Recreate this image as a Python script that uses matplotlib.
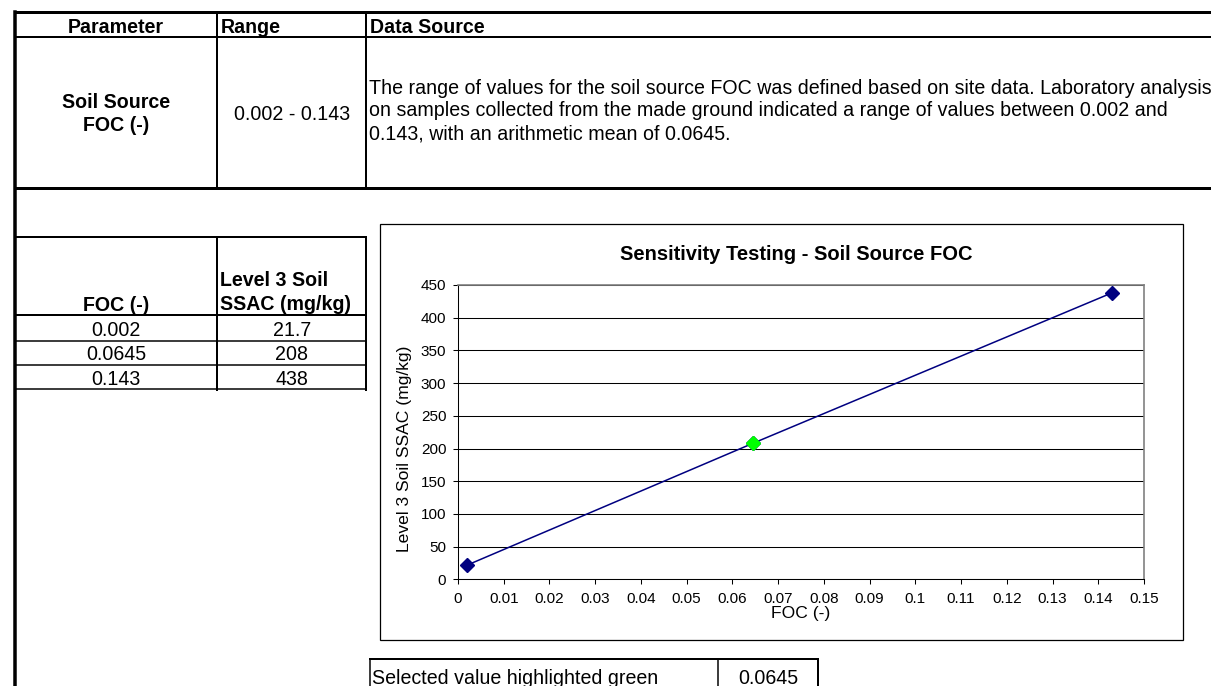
import matplotlib
matplotlib.use('Agg')
import matplotlib.pyplot as plt
from matplotlib.lines import Line2D
from matplotlib.patches import Rectangle

plt.rcParams['font.family'] = ['Liberation Sans', 'DejaVu Sans']

# ---------------- data ----------------
foc_values = [0.002, 0.0645, 0.143]
ssac_values = [21.7, 208, 438]
selected_foc = 0.0645

x_ticks = [0, 0.01, 0.02, 0.03, 0.04, 0.05, 0.06, 0.07, 0.08, 0.09, 0.10,
           0.11, 0.12, 0.13, 0.14, 0.15]
x_tick_labels = ['0', '0.01', '0.02', '0.03', '0.04', '0.05', '0.06', '0.07',
                 '0.08', '0.09', '0.1', '0.11', '0.12', '0.13', '0.14', '0.15']
y_ticks = [0, 50, 100, 150, 200, 250, 300, 350, 400, 450]

chart_title = 'Sensitivity Testing - Soil Source FOC'
x_label = 'FOC (-)'
y_label = 'Level 3 Soil SSAC (mg/kg)'

table_headers = ['Parameter', 'Range', 'Data Source']
parameter_lines = ['Soil Source', 'FOC (-)']
range_text = '0.002 - 0.143'
source_lines = [
    'The range of values for the soil source FOC was defined based on site data. Laboratory analysis',
    'on samples collected from the made ground indicated a range of values between 0.002 and',
    '0.143, with an arithmetic mean of 0.0645.',
]
small_header_foc = 'FOC (-)'
small_header_ssac = ['Level 3 Soil', 'SSAC (mg/kg)']
selected_label = 'Selected value highlighted green'

# ---------------- figure ----------------
W, H = 1211, 686
fig = plt.figure(figsize=(W / 100, H / 100), dpi=100)
fig.patch.set_facecolor('white')
TABLE_FS = 14.15


def P(x, y):
    return (x / W, 1 - y / H)


def hline(y, x0, x1, px):
    fig.add_artist(Line2D([x0 / W, x1 / W], [1 - y / H, 1 - y / H],
                          transform=fig.transFigure, color='black',
                          lw=px * 0.72, solid_capstyle='projecting'))


def vline(x, y0, y1, px):
    fig.add_artist(Line2D([x / W, x / W], [1 - y0 / H, 1 - y1 / H],
                          transform=fig.transFigure, color='black',
                          lw=px * 0.72, solid_capstyle='projecting'))


def txt(x, y, s, ha='left', bold=False, size=TABLE_FS):
    fig.text(*P(x, y), s, ha=ha, va='baseline', fontsize=size,
             weight='bold' if bold else 'normal')


# top table
hline(12, 15, 1211, 3)
hline(36.7, 15, 1211, 2)
hline(187.5, 15, 1211, 3)
vline(15, 12, 686, 3.5)
vline(217, 12, 187.5, 2)
vline(366, 12, 187.5, 2)

txt(116, 33, table_headers[0], ha='center', bold=True)
txt(221, 33, table_headers[1], bold=True)
txt(370, 33, table_headers[2], bold=True)
txt(116, 107.5, parameter_lines[0], ha='center', bold=True)
txt(116, 131, parameter_lines[1], ha='center', bold=True)
txt(292, 120, range_text, ha='center')
for i, line in enumerate(source_lines):
    txt(369, 94 + i * 22.5, line)

# second table
hline(237, 15, 366, 2)
hline(315, 15, 366, 2)
hline(340.5, 15, 366, 1.5)
hline(365, 15, 366, 1.5)
hline(389.5, 15, 366, 1.5)
vline(217, 237, 390, 2)
vline(366, 237, 390, 2)

txt(116, 311, small_header_foc, ha='center', bold=True)
txt(220, 286, small_header_ssac[0], bold=True)
txt(220, 310.5, small_header_ssac[1], bold=True)
for i, (f, s) in enumerate(zip(foc_values, ssac_values)):
    yb = 335.5 + i * 24.6
    txt(116, yb, f"{f:g}", ha='center')
    txt(292, yb, f"{s:g}", ha='center')

# bottom box
hline(659, 370, 818, 2)
vline(370, 659, 686, 1.5)
vline(718, 659, 686, 1.5)
vline(818, 659, 686, 2)
txt(372, 684, selected_label)
txt(768, 684, f"{selected_foc:g}", ha='center')

# chart frame
fig.add_artist(Rectangle(P(380, 640), 803 / W, 416 / H, fill=False,
                         ec='black', lw=0.9, transform=fig.transFigure))

# chart axes
ax = fig.add_axes([458 / W, 1 - 579.3 / H, (1144 - 458) / W, (579.3 - 285) / H])
ax.set_facecolor('white')
ax.plot(foc_values, ssac_values, color='#000080', lw=1.1, marker='D', ms=7,
        mfc='#000080', mec='#000080', zorder=3, clip_on=False)
sel_idx = foc_values.index(selected_foc)
ax.plot([foc_values[sel_idx]], [ssac_values[sel_idx]], 'D', color='#00FF00',
        mec='#00FF00', ms=7, zorder=4)

ax.set_xlim(0, 0.15)
ax.set_ylim(0, 450)
ax.set_xticks(x_ticks)
ax.set_xticklabels(x_tick_labels)
ax.set_yticks(y_ticks)
ax.yaxis.grid(True, color='black', lw=0.75)
ax.set_axisbelow(True)
ax.tick_params(direction='out', length=3.6, width=0.75, labelsize=11, color='black')
ax.tick_params(axis='x', pad=5.5)
ax.tick_params(axis='y', pad=4.8)
for side in ('left', 'bottom'):
    ax.spines[side].set_color('black')
    ax.spines[side].set_linewidth(0.75)
for side in ('top', 'right'):
    ax.spines[side].set_color('#808080')
    ax.spines[side].set_linewidth(1.2)

ax.set_ylabel(y_label, fontsize=12.6)
ax.yaxis.set_label_coords(-0.067, 0.443)
ax.set_xlabel(x_label, fontsize=12.6)
ax.xaxis.set_label_coords(0.5, -0.0897)

fig.text(*P(796, 260), chart_title, ha='center', va='baseline', fontsize=14.5,
         weight='bold')

fig.savefig('out.png', dpi=100)
